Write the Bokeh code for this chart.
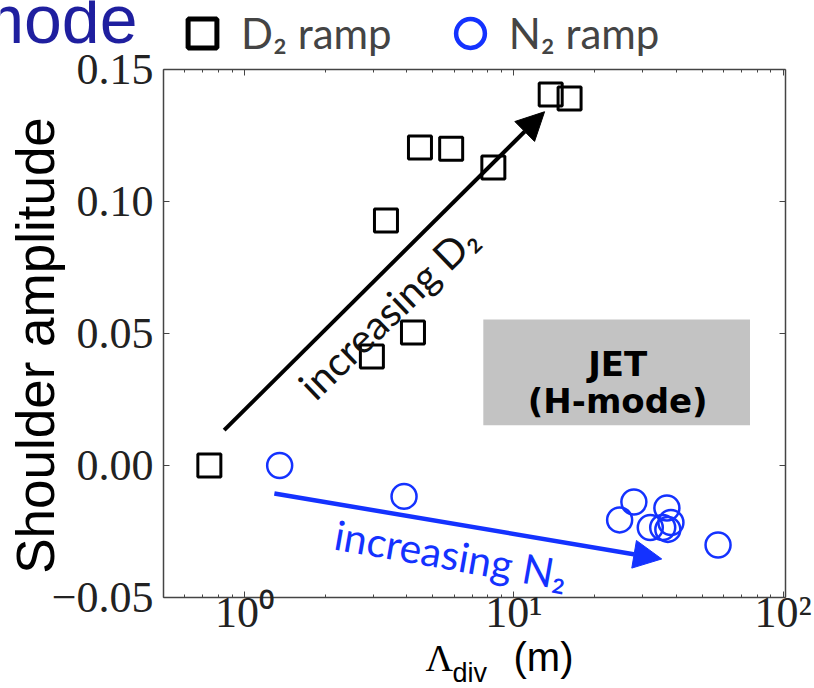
import numpy as np
from bokeh.plotting import figure
from bokeh.models import (LogAxis, LinearAxis, FixedTicker, LogTicker, CustomJSTickFormatter,
                          Label, Legend, LegendItem, Arrow, NormalHead, Range1d)
from bokeh.core.properties import value
from bokeh.embed import file_html
from bokeh.resources import INLINE

# ---------------- data ----------------
D2_LAMBDA = [0.74, 2.97, 4.22, 3.35, 4.48, 5.85, 8.39, 13.7, 16.1]
D2_SHOULDER = [0.0, 0.0413, 0.0504, 0.0928, 0.1205, 0.1200, 0.1129, 0.1405, 0.1390]

N2_LAMBDA = [1.35, 3.91, 27.9, 24.7, 37.0, 32.1, 35.7, 38.3, 37.3, 57.3]
N2_SHOULDER = [0.0, -0.0117, -0.0138, -0.0206, -0.0161, -0.0235, -0.0235, -0.0216, -0.0242, -0.0301]

Y_TICKS = [-0.05, 0.0, 0.05, 0.10, 0.15]
X_AXIS_LIMITS = [0.5, 102]
Y_AXIS_LIMITS = [-0.05, 0.15]

# annotation anchors (data coordinates)
D2_ARROW = [0.84, 0.0134, 13.0, 0.134]
N2_ARROW = [1.29, -0.0106, 35.4, -0.0354]
D2_TEXT = ["increasing D\u2082", 3.41, 0.0583, 44]
N2_TEXT = ["increasing N\u2082", 5.85, -0.0337, -10]
BOX = [7.7, 75.3, 0.0152, 0.0553]
BOX_TEXT = ["JET", "(H-mode)"]
BOX_TEXT_X = [24.3, 24.3]
BOX_TEXT_Y = [0.0386, 0.0246]
LEGEND_LABELS = ["D\u2082 ramp", "N\u2082 ramp"]
Y_LABEL = "Shoulder amplitude"
X_LABEL = ["\u039b", "div", "(m)"]
SLIDE_TITLE = "H-mode"

BLUE = "#1432ff"
AX_COL = "#444444"

# ---- layout: axes box placed inside a full-canvas frame ----
W, H = 814, 688
BOX_PX = dict(left=163, right=785, top=69, bottom=597)
dec_px = (BOX_PX["right"] - BOX_PX["left"]) / np.log10(X_AXIS_LIMITS[1] / X_AXIS_LIMITS[0])
unit_px = (BOX_PX["bottom"] - BOX_PX["top"]) / (Y_AXIS_LIMITS[1] - Y_AXIS_LIMITS[0])
x_lo = 10 ** (np.log10(X_AXIS_LIMITS[0]) - BOX_PX["left"] / dec_px)
x_hi = 10 ** (np.log10(X_AXIS_LIMITS[1]) + (W - BOX_PX["right"]) / dec_px)
y_lo = Y_AXIS_LIMITS[0] - (H - BOX_PX["bottom"]) / unit_px
y_hi = Y_AXIS_LIMITS[1] + BOX_PX["top"] / unit_px
BASELINE_SHIFT = 0.39  # label anchor correction (fraction of font size)


def px_to_data(px, py):
    return (10 ** (np.log10(X_AXIS_LIMITS[0]) + (px - BOX_PX["left"]) / dec_px),
            Y_AXIS_LIMITS[0] + (BOX_PX["bottom"] - py) / unit_px)


p = figure(width=W, height=H, x_axis_type="log",
           x_range=Range1d(x_lo, x_hi), y_range=Range1d(y_lo, y_hi),
           output_backend="svg", toolbar_location=None, min_border=0)
p.grid.visible = False
p.outline_line_color = None
p.background_fill_color = "white"
p.border_fill_color = "white"

blank = CustomJSTickFormatter(code="return '';")

xa = p.xaxis[0]
xa.ticker = LogTicker(num_minor_ticks=10)
xa.formatter = CustomJSTickFormatter(code="""
const e = Math.round(Math.log10(tick));
const sup = {'0':'\u2070','1':'\u00b9','2':'\u00b2','3':'\u00b3','-':'\u207b'};
return '10' + String(e).split('').map(c => sup[c]).join('');
""")
xa.fixed_location = Y_AXIS_LIMITS[0]
xa.bounds = tuple(X_AXIS_LIMITS)
ya = p.yaxis[0]
ya.ticker = FixedTicker(ticks=Y_TICKS, minor_ticks=[])
ya.formatter = CustomJSTickFormatter(code="return tick.toFixed(2).replace('-', '\u2212');")
ya.fixed_location = X_AXIS_LIMITS[0]
ya.bounds = tuple(Y_AXIS_LIMITS)

top = LogAxis(ticker=LogTicker(num_minor_ticks=10), formatter=blank,
              fixed_location=Y_AXIS_LIMITS[1], bounds=tuple(X_AXIS_LIMITS))
right = LinearAxis(ticker=FixedTicker(ticks=Y_TICKS, minor_ticks=[]), formatter=blank,
                   fixed_location=X_AXIS_LIMITS[1], bounds=tuple(Y_AXIS_LIMITS))
p.add_layout(top, "above")
p.add_layout(right, "right")

for ax in (xa, ya, top, right):
    ax.major_label_text_font = "Liberation Serif"
    ax.major_label_text_font_size = "44px"
    ax.major_label_text_color = "#222222"
    ax.axis_line_color = AX_COL
    ax.axis_line_width = 1.5
    ax.major_tick_in = 6
    ax.major_tick_out = 0
    ax.minor_tick_in = 3
    ax.minor_tick_out = 0
    ax.major_tick_line_color = AX_COL
    ax.minor_tick_line_color = AX_COL
ya.major_label_standoff = 10
xa.major_label_standoff = -10

# JET box
p.quad(left=[BOX[0]], right=[BOX[1]], bottom=[BOX[2]], top=[BOX[3]],
       fill_color="#c3c3c3", line_color=None)
p.text(x=BOX_TEXT_X, y=BOX_TEXT_Y, text=BOX_TEXT, text_font=value("DejaVu Sans"),
       text_font_style="bold", text_font_size="34px", text_align="center",
       text_baseline="middle", text_color="black")

# data
p.scatter(D2_LAMBDA, D2_SHOULDER, marker="square", size=23, fill_color=None,
          line_color="black", line_width=3)
p.scatter(N2_LAMBDA, N2_SHOULDER, marker="circle", size=25, fill_color=None,
          line_color=BLUE, line_width=2.5)

# arrows
p.add_layout(Arrow(end=NormalHead(size=28, fill_color="black", line_color="black", line_width=1),
                   x_start=D2_ARROW[0], y_start=D2_ARROW[1], x_end=D2_ARROW[2], y_end=D2_ARROW[3],
                   line_color="black", line_width=4))
p.add_layout(Arrow(end=NormalHead(size=28, fill_color=BLUE, line_color=BLUE, line_width=1),
                   x_start=N2_ARROW[0], y_start=N2_ARROW[1], x_end=N2_ARROW[2], y_end=N2_ARROW[3],
                   line_color=BLUE, line_width=4.5))

p.text(x=[D2_TEXT[1]], y=[D2_TEXT[2]], text=[D2_TEXT[0]], angle=np.deg2rad(D2_TEXT[3]),
       text_font=value("Lato"), text_font_size="40px", text_align="center",
       text_baseline="middle", text_color="#111111")
p.text(x=[N2_TEXT[1]], y=[N2_TEXT[2]], text=[N2_TEXT[0]], angle=np.deg2rad(N2_TEXT[3]),
       text_font=value("Lato"), text_font_size="41px", text_align="center",
       text_baseline="middle", text_color=BLUE)

# legend (proxy renderers lie outside the ranges; they only style the legend markers)
ld = p.scatter([1e-4], [10.0], marker="square", fill_color=None, line_color="black", line_width=5)
ln = p.scatter([1e-4], [10.0], marker="circle", fill_color=None, line_color=BLUE, line_width=4.5)
legend = Legend(items=[LegendItem(label=LEGEND_LABELS[0], renderers=[ld]),
                       LegendItem(label=LEGEND_LABELS[1], renderers=[ln])],
                orientation="horizontal", location=(166, H - 69), glyph_width=72, glyph_height=72,
                label_text_font="Lato", label_text_font_size="42px", label_standoff=3,
                spacing=42, padding=0, margin=0, border_line_color=None,
                background_fill_alpha=0, label_text_baseline="middle")
p.add_layout(legend, "center")

# axis titles
lx, ly = px_to_data(35, 345)
p.add_layout(Label(x=lx, y=ly, text=Y_LABEL, angle=np.pi / 2, text_font="Liberation Sans",
                   text_font_size="53px", text_align="center", text_baseline="middle",
                   text_color="black"))
for txt, (px, py), font, size in zip(X_LABEL, [(425, 672), (452, 683), (513, 672)],
                                     ["Liberation Serif", "Liberation Sans", "Liberation Sans"],
                                     [38, 27, 40]):
    qx, qy = px_to_data(px, py - BASELINE_SHIFT * size)
    p.add_layout(Label(x=qx, y=qy, text=txt, text_font=font, text_font_size=f"{size}px",
                       text_baseline="alphabetic", text_color="black"))

# cropped title fragment at top-left of the slide
tx, ty = px_to_data(137, 45 - BASELINE_SHIFT * 68)
p.add_layout(Label(x=tx, y=ty, text=SLIDE_TITLE, text_font="Liberation Sans",
                   text_font_size="68px", text_align="right", text_baseline="alphabetic",
                   text_color="#1f1f9f"))

open("out.html", "w").write(file_html(p, INLINE))
